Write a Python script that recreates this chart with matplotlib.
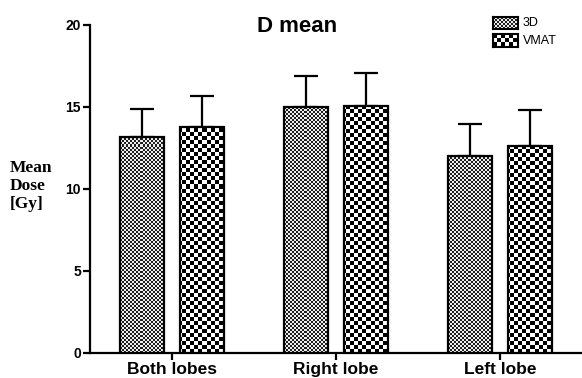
import numpy as np
import matplotlib
matplotlib.use("Agg")
import matplotlib.pyplot as plt

categories = ["Both lobes", "Right lobe", "Left lobe"]
series_names = ["3D", "VMAT"]
mean_3d = [13.2, 15.0, 12.0]
sd_3d = [1.7, 1.9, 1.95]
mean_vmat = [13.8, 15.05, 12.6]
sd_vmat = [1.9, 2.05, 2.2]
yticks = [0, 5, 10, 15, 20]
title = "D mean"
ylabel = "Mean\nDose\n[Gy]"

W, H = 582, 378
DPI = 100
fig = plt.figure(figsize=(W / DPI, H / DPI), dpi=DPI)

ax_left, ax_w = 90, 492
ax_bot, ax_h = 25, 328
ax = fig.add_axes([ax_left / W, ax_bot / H, ax_w / W, ax_h / H])

XL = (-0.5, 2.5)
YL = (0, 20)


def checker(rows, cols, cell, dark, light):
    base = (np.indices((rows // cell + 1, cols // cell + 1)).sum(0)) % 2
    board = np.kron(base, np.ones((cell, cell)))[:rows, :cols]
    return np.where(board > 0, light, dark)


pat_3d = checker(ax_h, ax_w, 2, 0.12, 0.93)
pat_vm = checker(ax_h, ax_w, 4, 0.0, 1.0)

x = np.arange(len(categories))
bw = 0.27
off = 0.183

patterns = [pat_3d, pat_vm]
means = [mean_3d, mean_vmat]
sds = [sd_3d, sd_vmat]
for i, (m, s, pat) in enumerate(zip(means, sds, patterns)):
    xs = x + (-off if i == 0 else off)
    ax.errorbar(xs, m, yerr=[np.zeros(len(m)), s], fmt="none", ecolor="black",
                elinewidth=1.6, capsize=8.3, capthick=1.6, zorder=2)
    bars = ax.bar(xs, m, width=bw, facecolor="none", edgecolor="black",
                  linewidth=1.6, zorder=4, label=series_names[i])
    for b in bars:
        im = ax.imshow(pat, cmap="gray", vmin=0, vmax=1, extent=(XL[0], XL[1], YL[0], YL[1]),
                       origin="upper", aspect="auto", interpolation="nearest", zorder=3)
        im.set_clip_path(b)

ax.set_xlim(*XL)
ax.set_ylim(*YL)
ax.set_xticks(x)
ax.set_xticklabels(categories, fontfamily="Liberation Sans", fontweight="bold", fontsize=12.5)
ax.set_yticks(yticks)
ax.set_yticklabels([str(t) for t in yticks], fontfamily="Liberation Sans", fontweight="bold", fontsize=10)
ax.tick_params(axis="y", length=5, width=1.6, pad=1.5)
ax.tick_params(axis="x", length=5, width=1.6, pad=1.8)
for sp in ["top", "right"]:
    ax.spines[sp].set_visible(False)
for sp in ["left", "bottom"]:
    ax.spines[sp].set_linewidth(1.6)

fig.text(297.5 / W, (H - 32) / H, title, ha="center", va="baseline",
         fontfamily="Liberation Sans", fontweight="bold", fontsize=16)
fig.text(10 / W, (H - 186) / H, ylabel, ha="left", va="center", linespacing=1.15,
         fontfamily="Liberation Serif", fontweight="bold", fontsize=12.5)

# legend swatches
leg_items = [(series_names[0], pat_3d, 17, 29, 23), (series_names[1], pat_vm, 34, 47, 41)]
for name, pat, top, bot, ty in leg_items:
    sw = fig.add_axes([493 / W, (H - bot) / H, 25 / W, (bot - top) / H])
    sw.imshow(pat[:bot - top, :25], cmap="gray", vmin=0, vmax=1, aspect="auto",
              interpolation="nearest")
    sw.set_xticks([])
    sw.set_yticks([])
    for sp in sw.spines.values():
        sp.set_linewidth(1.5)
    fig.text(523 / W, (H - ty) / H, name, ha="left", va="center",
             fontfamily="Liberation Sans", fontsize=9)

fig.savefig("out.png", dpi=DPI)
